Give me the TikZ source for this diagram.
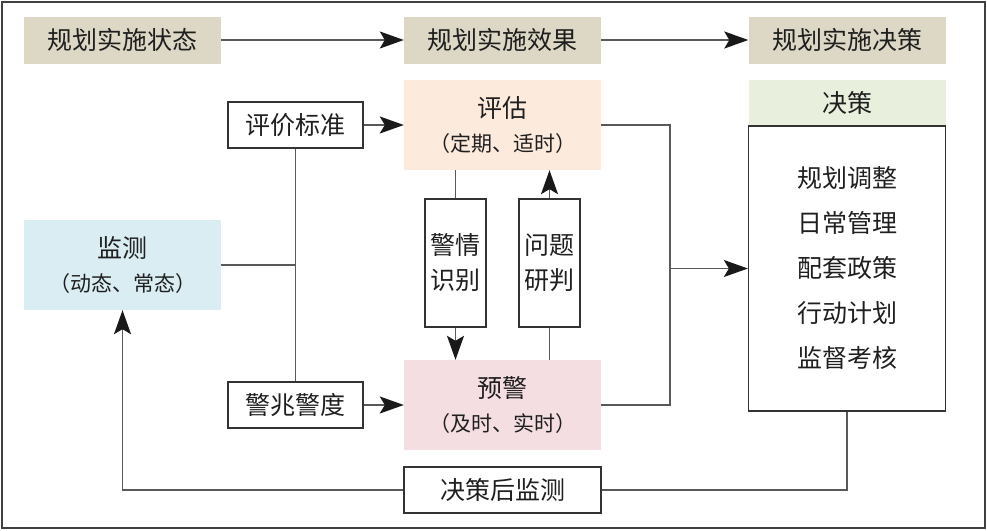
\documentclass[tikz,border=0pt]{standalone}
\usepackage{fontspec}
\setmainfont{Noto Sans CJK SC}
\usetikzlibrary{arrows.meta}

\definecolor{tanc}{RGB}{221,216,197}
\definecolor{peachc}{RGB}{252,234,221}
\definecolor{bluec}{RGB}{217,237,243}
\definecolor{pinkc}{RGB}{244,222,225}
\definecolor{greenc}{RGB}{233,239,221}

\begin{document}
\begin{tikzpicture}[x=1pt,y=-1pt,every node/.style={text=black!88,inner sep=0pt},
	line/.style={draw=black!65,line width=1.5pt},
	arr/.style={line,-{Stealth[length=24pt,width=17pt,inset=5pt,black!90]}},
	stage/.style={fill=tanc,minimum width=197pt,minimum height=47pt,font=\fontsize{25}{30}\selectfont},
	phase/.style={minimum width=197pt,minimum height=90pt,align=center,font=\fontsize{25}{34}\selectfont},
	tag/.style={draw=black!80,line width=1.3pt,fill=white,minimum width=135pt,minimum height=46pt,font=\fontsize{25}{30}\selectfont},
	vbox/.style={draw=black!80,line width=1.3pt,minimum width=61pt,minimum height=128pt,align=center,font=\fontsize{25}{35}\selectfont}]
	\useasboundingbox (0,0) rectangle (987,530);
	\draw[black!75,line width=1.3pt] (2,2) rectangle (985,528);

	\node[stage] (s1) at (122.5,40) {规划实施状态};
	\node[stage] (s2) at (502.5,40) {规划实施效果};
	\node[stage] (s3) at (847,40) {规划实施决策};

	\node[phase,fill=peachc] (eval) at (502.5,125) {评估\\{\fontsize{21}{34}\selectfont （定期、适时）}};
	\node[phase,fill=bluec] (mon) at (122.5,265) {监测\\{\fontsize{21}{34}\selectfont （动态、常态）}};
	\node[phase,fill=pinkc] (warn) at (502.5,405) {预警\\{\fontsize{21}{34}\selectfont （及时、实时）}};

	\node[tag] (std) at (295.5,125) {评价标准};
	\node[tag] (sign) at (295.5,405) {警兆警度};
	\node[tag,minimum width=197pt] (after) at (502.5,490) {决策后监测};

	\node[vbox] (idn) at (455.5,263) {警情\\识别};
	\node[vbox] (jud) at (549.5,263) {问题\\研判};

	\node[fill=greenc,minimum width=197pt,minimum height=46pt,font=\fontsize{25}{30}\selectfont] (head) at (847,103) {决策};
	\node[draw=black!80,line width=1.3pt,minimum width=197pt,minimum height=285pt,align=center,
		font=\fontsize{25}{45}\selectfont] (body) at (847,268.5) {规划调整\\日常管理\\配套政策\\行动计划\\监督考核};

	\coordinate (bend) at (670,268.5);

	\draw[arr] (s1) -- (s2);
	\draw[arr] (s2) -- (s3);
	\draw[arr] (std) -- (eval);
	\draw[arr] (sign) -- (warn);
	\draw[line] (std.south) -- (sign.north);
	\draw[line] (mon.east) -- (mon.east -| std.south);
	\draw[line] (idn.north |- eval.south) -- (idn.north);
	\draw[arr] (idn.south) -- (idn.south |- warn.north);
	\draw[line] (jud.south |- warn.north) -- (jud.south);
	\draw[arr] (jud.north) -- (jud.north |- eval.south);
	\draw[line] (eval.east) -| (bend) |- (warn.east);
	\draw[arr] (bend) -- (body.west);
	\draw[line] (body.south) |- (after.east);
	\draw[arr] (after.west) -| (mon.south);
\end{tikzpicture}
\end{document}
